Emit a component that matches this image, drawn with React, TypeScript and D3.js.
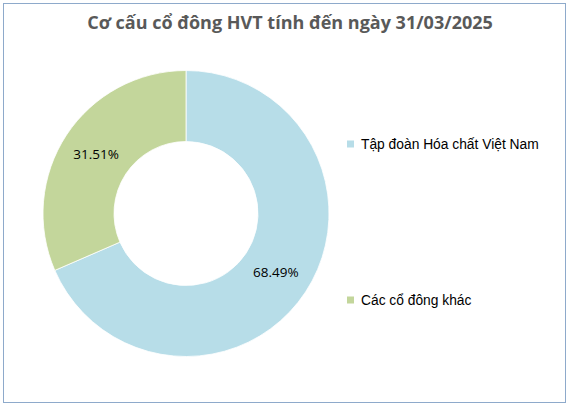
import { useEffect, useRef } from 'react';
import * as d3 from 'd3';

const categories = ['Tập đoàn Hóa chất Việt Nam', 'Các cổ đông khác'];
const shares = [68.49, 31.51];
const colors = ['#b7dde8', '#c3d69b'];
const title = 'Cơ cấu cổ đông HVT tính đến ngày 31/03/2025';

export default function App() {
  const ref = useRef<SVGSVGElement>(null);

  useEffect(() => {
    const svg = d3.select(ref.current);
    svg.selectAll('*').remove();

    const width = 570;
    const height = 408;

    // chart frame
    svg
      .append('rect')
      .attr('x', 3.5)
      .attr('y', 3.5)
      .attr('width', 562)
      .attr('height', 399)
      .attr('fill', '#fff')
      .attr('stroke', '#8eaacb')
      .attr('stroke-width', 1);

    svg
      .append('text')
      .attr('x', 290)
      .attr('y', 29)
      .attr('text-anchor', 'middle')
      .style('font-family', '"Open Sans", sans-serif')
      .style('font-size', '18px')
      .style('font-weight', 'bold')
      .style('fill', '#595959')
      .text(title);

    const cx = 186;
    const cy = 213.5;
    const outer = 143;
    const inner = 72;

    const data = categories.map((c, i) => ({ name: c, value: shares[i] }));
    const pie = d3.pie<{ name: string; value: number }>().sort(null).value(d => d.value);
    const arc = d3
      .arc<d3.PieArcDatum<{ name: string; value: number }>>()
      .innerRadius(inner)
      .outerRadius(outer);

    const g = svg.append('g').attr('transform', `translate(${cx},${cy})`);
    const arcs = pie(data);

    g.selectAll('path')
      .data(arcs)
      .enter()
      .append('path')
      .attr('d', arc)
      .attr('fill', (_, i) => colors[i])
      .attr('stroke', '#fff')
      .attr('stroke-width', 0.8);

    g.selectAll('text.lbl')
      .data(arcs)
      .enter()
      .append('text')
      .attr('class', 'lbl')
      .attr('transform', d => `translate(${arc.centroid(d)})`)
      .attr('text-anchor', 'middle')
      .attr('dy', '0.35em')
      .style('font-family', '"Open Sans", sans-serif')
      .style('font-size', '13.5px')
      .style('fill', '#000')
      .text(d => `${d.data.value.toFixed(2)}%`);

    // legend
    const legendY = d3.scalePoint<string>().domain(categories).range([144, 300]);
    const legend = svg
      .selectAll('g.legend')
      .data(categories)
      .enter()
      .append('g')
      .attr('class', 'legend')
      .attr('transform', d => `translate(347,${legendY(d)})`);

    legend
      .append('rect')
      .attr('x', 0)
      .attr('y', -3.5)
      .attr('width', 7)
      .attr('height', 7)
      .attr('fill', (_, i) => colors[i]);

    legend
      .append('text')
      .attr('x', 14)
      .attr('y', 0)
      .attr('dy', '0.35em')
      .style('font-family', '"Liberation Sans", Arial, sans-serif')
      .style('font-size', '13.8px')
      .style('fill', '#000')
      .text(d => d);

    svg.attr('width', width).attr('height', height);
  }, []);

  return (
    <svg
      ref={ref}
      width={570}
      height={408}
      style={{ position: 'absolute', left: 0, top: 0, background: '#fff' }}
    />
  );
}
